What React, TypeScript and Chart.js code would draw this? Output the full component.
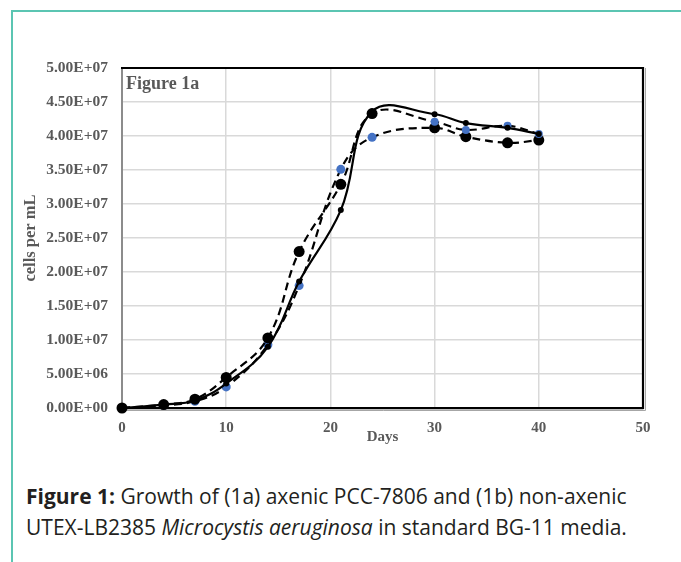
import React, { useEffect, useRef } from "react";
import { Chart, registerables } from "chart.js";

Chart.register(...registerables);

// ---- data ----
const days = [0, 4, 7, 10, 14, 17, 21, 24, 30, 33, 37, 40];
const solidSeries = [0, 0.5e6, 1.1e6, 3.6e6, 9.0e6, 18.6e6, 29.1e6, 43.6e6, 43.2e6, 41.9e6, 41.2e6, 40.3e6];
const dashedSeriesA = [0, 0.5e6, 1.3e6, 4.5e6, 10.3e6, 23.0e6, 32.9e6, 43.3e6, 42.1e6, 40.9e6, 41.5e6, 40.3e6];
const dashedSeriesB = [0, 0.4e6, 1.0e6, 3.1e6, 9.3e6, 18.0e6, 35.1e6, 39.8e6, 41.2e6, 39.9e6, 39.0e6, 39.4e6];
const xTickValues = [0, 10, 20, 30, 40, 50];
const yMax = 5e7;
const yStep = 5e6;
const panelLabel = "Figure 1a";
const xTitle = "Days";
const yTitle = "cells per mL";

const TEXT_GRAY = "#595959";
const SERIF = '"Liberation Serif", "Times New Roman", serif';
const BLUE = "#4472C4";

function sci(v: number): string {
  if (v === 0) return "0.00E+00";
  const e = Math.floor(Math.log10(Math.abs(v)) + 1e-9);
  const m = v / Math.pow(10, e);
  const es = String(Math.abs(e)).padStart(2, "0");
  return `${m.toFixed(2)}E${e < 0 ? "-" : "+"}${es}`;
}

function pts(ys: number[]) {
  return days.map((d, i) => ({ x: d, y: ys[i] }));
}

const framePlugin = {
  id: "frameAndLabel",
  beforeDatasetsDraw(chart: any) {
    const { ctx, chartArea } = chart;
    const { left, right, top, bottom } = chartArea;
    ctx.save();
    ctx.strokeStyle = "#a6a6a6";
    ctx.lineWidth = 1;
    ctx.beginPath();
    ctx.moveTo(left, bottom + 2.5);
    ctx.lineTo(right + 2.5, bottom + 2.5);
    ctx.lineTo(right + 2.5, top);
    ctx.stroke();
    ctx.strokeStyle = "#000";
    ctx.lineWidth = 2.2;
    ctx.beginPath();
    ctx.moveTo(left - 1, top);
    ctx.lineTo(right, top);
    ctx.lineTo(right, bottom);
    ctx.lineTo(left, bottom);
    ctx.stroke();
    ctx.fillStyle = TEXT_GRAY;
    ctx.font = `bold 18px ${SERIF}`;
    ctx.textBaseline = "alphabetic";
    ctx.textAlign = "left";
    ctx.fillText(panelLabel, left + 4, top + 21);
    ctx.restore();
  },
};

export default function App() {
  const canvasRef = useRef<HTMLCanvasElement | null>(null);

  useEffect(() => {
    if (!canvasRef.current) return;
    const isEarly = (i: number) => i <= 7;
    const chart = new Chart(canvasRef.current, {
      type: "line",
      data: {
        datasets: [
          {
            label: "solid",
            data: pts(solidSeries),
            borderColor: "#000",
            borderWidth: 2.2,
            pointRadius: 3,
            pointBackgroundColor: "#000",
            pointBorderWidth: 0,
            tension: 0.4,
            clip: false as any,
          },
          {
            label: "dashedA",
            data: pts(dashedSeriesA),
            borderColor: "#000",
            borderWidth: 2.2,
            borderDash: [8, 5],
            pointRadius: (c: any) => (isEarly(c.dataIndex) ? 5.5 : 4),
            pointBackgroundColor: (c: any) => (isEarly(c.dataIndex) ? "#000" : BLUE),
            pointBorderWidth: 0,
            tension: 0.4,
            clip: false as any,
          },
          {
            label: "dashedB",
            data: pts(dashedSeriesB),
            borderColor: "#000",
            borderWidth: 2.2,
            borderDash: [8, 5],
            pointRadius: (c: any) => (isEarly(c.dataIndex) ? 4.5 : 5.5),
            pointBackgroundColor: (c: any) => (isEarly(c.dataIndex) ? BLUE : "#000"),
            pointBorderWidth: 0,
            tension: 0.4,
            clip: false as any,
          },
        ],
      },
      options: {
        animation: false,
        responsive: false,
        maintainAspectRatio: false,
        devicePixelRatio: 1,
        layout: { padding: { top: 68, left: 20, right: 38, bottom: 14 } },
        plugins: { legend: { display: false }, tooltip: { enabled: false } },
        scales: {
          x: {
            type: "linear",
            min: 0,
            max: xTickValues[xTickValues.length - 1],
            afterBuildTicks: (s: any) => {
              s.ticks = xTickValues.map((v) => ({ value: v }));
            },
            ticks: {
              color: TEXT_GRAY,
              font: { family: SERIF, weight: "bold", size: 15 },
              padding: 11,
              maxRotation: 0,
            },
            grid: { color: "#d9d9d9", lineWidth: 1.5, drawTicks: false },
            border: { color: "#000", width: 2.2 },
            title: {
              display: true,
              text: xTitle,
              color: TEXT_GRAY,
              font: { family: SERIF, weight: "bold", size: 15 },
              padding: { top: 0, bottom: 0 },
            },
            afterFit: (s: any) => {
              s.height = 38;
            },
          },
          y: {
            type: "linear",
            min: 0,
            max: yMax,
            ticks: {
              stepSize: yStep,
              color: TEXT_GRAY,
              font: { family: SERIF, weight: "bold", size: 15.5 },
              padding: 14,
              callback: (v: any) => sci(Number(v)),
            },
            grid: { color: "#d9d9d9", lineWidth: 1.5, drawTicks: false },
            border: { color: "#8c8c8c", width: 2 },
            title: {
              display: true,
              text: yTitle,
              color: TEXT_GRAY,
              font: { family: SERIF, weight: "bold", size: 16.5 },
              padding: { top: 1, bottom: 0 },
            },
            afterFit: (s: any) => {
              s.width = 102;
            },
          },
        },
      },
      plugins: [framePlugin],
    });
    return () => chart.destroy();
  }, []);

  return (
    <div style={{ position: "absolute", left: 0, top: 0, width: 681, height: 562, overflow: "hidden", background: "#fff" }}>
      <div
        style={{
          position: "absolute",
          left: 11,
          top: 10,
          width: 720,
          height: 620,
          borderLeft: "2.5px solid #5BC5B2",
          borderTop: "2.5px solid #5BC5B2",
        }}
      />
      <canvas ref={canvasRef} width={681} height={460} style={{ position: "absolute", left: 0, top: 0, width: 681, height: 460 }} />
      <div
        style={{
          position: "absolute",
          left: 26,
          top: 481,
          fontFamily: "'Open Sans', Lato, sans-serif",
          fontSize: 21,
          lineHeight: "31px",
          color: "#231f20",
          whiteSpace: "nowrap",
        }}
      >
        <div>
          <b>Figure 1:</b> Growth of (1a) axenic PCC-7806 and (1b) non-axenic
        </div>
        <div>
          UTEX-LB2385 <i>Microcystis aeruginosa</i> in standard BG-11 media.
        </div>
      </div>
    </div>
  );
}
